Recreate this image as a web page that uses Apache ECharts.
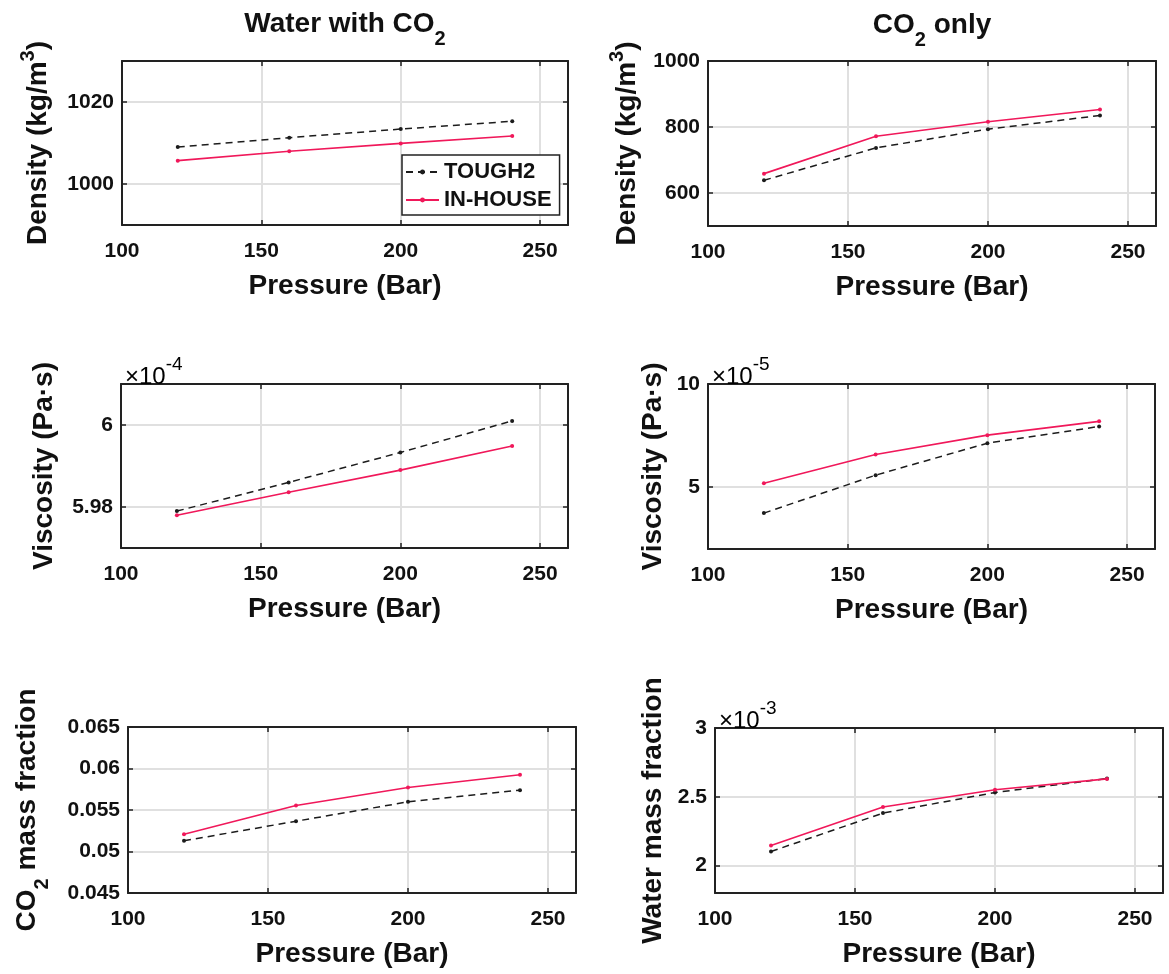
<!DOCTYPE html>
<html>
<head>
<meta charset="utf-8">
<script src="https://cdn.jsdelivr.net/npm/echarts@6/dist/echarts.min.js"></script>
<style>
  html, body { margin: 0; padding: 0; background: #fff; }
  #chart { width: 1169px; height: 974px; }
</style>
</head>
<body>
<div id="chart"></div>
<script>
// Pressure levels (Bar) shared by every panel
const pressure = [120, 160, 200, 240];
const pressureTicks = [100, 150, 200, 250];
const pressureRange = [100, 260];

const seriesNames = ['TOUGH2', 'IN-HOUSE'];

// Water with CO2 (aqueous phase)
const waterDensityTough2 = [1009.0, 1011.3, 1013.4, 1015.3];
const waterDensityInHouse = [1005.7, 1008.0, 1009.9, 1011.7];
const waterViscosityTough2 = [5.9790e-4, 5.9860e-4, 5.9933e-4, 6.0010e-4];
const waterViscosityInHouse = [5.9780e-4, 5.9836e-4, 5.9890e-4, 5.9949e-4];
const co2MassFractionTough2 = [0.05129, 0.05365, 0.05598, 0.05739];
const co2MassFractionInHouse = [0.05209, 0.05554, 0.05771, 0.05924];

// CO2 only (gas phase)
const co2DensityTough2 = [638.5, 736.7, 793.4, 835.0];
const co2DensityInHouse = [658.7, 772.0, 815.7, 853.0];
const co2ViscosityTough2 = [3.74e-5, 5.58e-5, 7.13e-5, 7.94e-5];
const co2ViscosityInHouse = [5.19e-5, 6.58e-5, 7.52e-5, 8.19e-5];
const waterMassFractionTough2 = [2.102e-3, 2.381e-3, 2.531e-3, 2.632e-3];
const waterMassFractionInHouse = [2.146e-3, 2.425e-3, 2.551e-3, 2.630e-3];

// Y axis limits and tick values
const waterDensityRange = [990, 1030];
const waterDensityTicks = [1000, 1020];
const co2DensityRange = [500, 1000];
const co2DensityTicks = [600, 800, 1000];
const waterViscosityRange = [5.97e-4, 6.01e-4];
const waterViscosityTicks = [5.98e-4, 6.00e-4];
const co2ViscosityRange = [2e-5, 10e-5];
const co2ViscosityTicks = [5e-5, 10e-5];
const co2MassFractionRange = [0.045, 0.065];
const co2MassFractionTicks = [0.045, 0.05, 0.055, 0.06, 0.065];
const waterMassFractionRange = [1.8e-3, 3e-3];
const waterMassFractionTicks = [2e-3, 2.5e-3, 3e-3];

const FONT = "'Liberation Sans', Arial, Helvetica, sans-serif";
const INK = '#111';
const AXIS = '#222';
const GRID_LINE = '#e0e0e0';
const COLORS = ['#1c1c1c', '#f0185a'];

const NAME_SIZE = 28;
const richLabel = {
  m:   { fontSize: NAME_SIZE, fontWeight: 'bold', fontFamily: FONT, color: INK, lineHeight: 28, verticalAlign: 'top' },
  mp:  { fontSize: NAME_SIZE, fontWeight: 'bold', fontFamily: FONT, color: INK, lineHeight: 28, verticalAlign: 'top', padding: [6, 0, 0, 0] },
  sup: { fontSize: 20, fontWeight: 'bold', fontFamily: FONT, color: INK, lineHeight: 20, verticalAlign: 'top' },
  sub: { fontSize: 20, fontWeight: 'bold', fontFamily: FONT, color: INK, lineHeight: 20, verticalAlign: 'top', padding: [19, 0, 0, 0] }
};

// Panel boxes in pixels
const boxes = [
  { left: 122, top: 61,  width: 446, height: 164 },
  { left: 708, top: 61,  width: 448, height: 165 },
  { left: 121, top: 384, width: 447, height: 164 },
  { left: 708, top: 384, width: 447, height: 165 },
  { left: 128, top: 727, width: 448, height: 166 },
  { left: 715, top: 728, width: 448, height: 165 }
];

const panels = [
  { name: '{mp|Density (kg/m}{sup|3}{mp|)}', nameGap: 76, range: waterDensityRange, ticks: waterDensityTicks, scale: 1,
    values: [waterDensityTough2, waterDensityInHouse] },
  { name: '{mp|Density (kg/m}{sup|3}{mp|)}', nameGap: 73, range: co2DensityRange, ticks: co2DensityTicks, scale: 1,
    values: [co2DensityTough2, co2DensityInHouse] },
  { name: '{m|Viscosity (Pa·s)}', nameGap: 63, range: waterViscosityRange, ticks: waterViscosityTicks, scale: 1e-4, exponent: '-4',
    values: [waterViscosityTough2, waterViscosityInHouse] },
  { name: '{m|Viscosity (Pa·s)}', nameGap: 41, range: co2ViscosityRange, ticks: co2ViscosityTicks, scale: 1e-5, exponent: '-5',
    values: [co2ViscosityTough2, co2ViscosityInHouse] },
  { name: '{m|CO}{sub|2}{m| mass fraction}', nameGap: 87, range: co2MassFractionRange, ticks: co2MassFractionTicks, scale: 1,
    values: [co2MassFractionTough2, co2MassFractionInHouse] },
  { name: '{m|Water mass fraction}', nameGap: 48, range: waterMassFractionRange, ticks: waterMassFractionTicks, scale: 1e-3, exponent: '-3',
    values: [waterMassFractionTough2, waterMassFractionInHouse] }
];

const tickLabelStyle = { fontSize: 21, fontWeight: 'bold', fontFamily: FONT, color: INK };
const axisLine = { show: true, onZero: false, lineStyle: { color: AXIS, width: 2 } };

function tickStyle(values) {
  return { show: true, inside: true, length: 5, customValues: values, lineStyle: { color: AXIS, width: 1.5 } };
}

const grid = [], xAxis = [], yAxis = [], series = [], graphic = [];

panels.forEach((p, i) => {
  const b = boxes[i];
  grid.push({ left: b.left, top: b.top, width: b.width, height: b.height, containLabel: false, outerBoundsMode: 'none' });

  // bottom axis with labels, plus a mirrored top axis closing the box
  xAxis.push({
    gridIndex: i, type: 'value', position: 'bottom', min: pressureRange[0], max: pressureRange[1],
    axisLine, axisTick: tickStyle(pressureTicks),
    axisLabel: Object.assign({ customValues: pressureTicks, margin: 16 }, tickLabelStyle),
    splitLine: { show: true, lineStyle: { color: GRID_LINE, width: 2 } },
    name: 'Pressure (Bar)', nameLocation: 'middle', nameGap: 47,
    nameTextStyle: { fontSize: NAME_SIZE, fontWeight: 'bold', fontFamily: FONT, color: INK }
  });
  xAxis.push({
    gridIndex: i, type: 'value', position: 'top', min: pressureRange[0], max: pressureRange[1],
    axisLine, axisTick: tickStyle(pressureTicks),
    axisLabel: { show: false, customValues: pressureTicks }, splitLine: { show: false }
  });

  const fmt = v => String(parseFloat((v / p.scale).toPrecision(6)));
  yAxis.push({
    gridIndex: i, type: 'value', position: 'left', min: p.range[0], max: p.range[1],
    axisLine, axisTick: tickStyle(p.ticks),
    axisLabel: Object.assign({ customValues: p.ticks, margin: 8, formatter: fmt }, tickLabelStyle),
    splitLine: { show: true, lineStyle: { color: GRID_LINE, width: 2 } },
    name: p.name, nameLocation: 'middle', nameRotate: 90, nameGap: p.nameGap,
    nameTextStyle: { rich: richLabel }
  });
  yAxis.push({
    gridIndex: i, type: 'value', position: 'right', min: p.range[0], max: p.range[1],
    axisLine, axisTick: tickStyle(p.ticks),
    axisLabel: { show: false, customValues: p.ticks }, splitLine: { show: false }
  });

  p.values.forEach((vals, k) => {
    series.push({
      type: 'line', name: seriesNames[k], xAxisIndex: 2 * i, yAxisIndex: 2 * i,
      data: pressure.map((x, j) => [x, vals[j]]),
      symbol: 'circle', symbolSize: 4, showSymbol: true,
      color: COLORS[k],
      itemStyle: { color: COLORS[k] },
      lineStyle: k === 0 ? { color: COLORS[k], width: 1.5, type: [7, 5] } : { color: COLORS[k], width: 1.6 },
      emphasis: { disabled: true }, z: 3 + k
    });
  });

  // axis multiplier above the top-left corner of the box
  if (p.exponent) {
    graphic.push({
      type: 'text', x: b.left + 4, y: b.top - 5, z: 10,
      style: {
        text: '{a|×10}{b|' + p.exponent + '}',
        verticalAlign: 'bottom', align: 'left',
        rich: {
          a: { fontSize: 24, fontFamily: FONT, color: INK, lineHeight: 24, verticalAlign: 'top', padding: [10, 0, 0, 0] },
          b: { fontSize: 19, fontFamily: FONT, color: INK, lineHeight: 19, verticalAlign: 'top' }
        }
      }
    });
  }
});

const titleRich = {
  m:   { fontSize: NAME_SIZE, fontWeight: 'bold', fontFamily: FONT, color: INK, lineHeight: 28, verticalAlign: 'top' },
  sub: { fontSize: 20, fontWeight: 'bold', fontFamily: FONT, color: INK, lineHeight: 20, verticalAlign: 'top', padding: [19, 0, 0, 0] }
};

const option = {
  animation: false,
  backgroundColor: '#fff',
  title: [
    { text: '{m|Water with CO}{sub|2}', left: boxes[0].left + boxes[0].width / 2, top: 10, padding: 0,
      textAlign: 'center', textVerticalAlign: 'top', textStyle: { rich: titleRich } },
    { text: '{m|CO}{sub|2}{m| only}', left: boxes[1].left + boxes[1].width / 2, top: 11, padding: 0,
      textAlign: 'center', textVerticalAlign: 'top', textStyle: { rich: titleRich } }
  ],
  legend: {
    data: seriesNames, orient: 'vertical', left: 402, top: 155,
    backgroundColor: '#fff', borderColor: AXIS, borderWidth: 1.5, borderRadius: 0,
    padding: [6, 8, 4, 3], itemGap: 6, itemWidth: 33, itemHeight: 6,
    textStyle: { fontSize: 22, fontWeight: 'bold', fontFamily: FONT, color: INK, lineHeight: 22 },
    z: 20
  },
  grid, xAxis, yAxis, series, graphic
};

const chart = echarts.init(document.getElementById('chart'), null, { renderer: 'canvas' });
chart.setOption(option);
</script>
</body>
</html>
